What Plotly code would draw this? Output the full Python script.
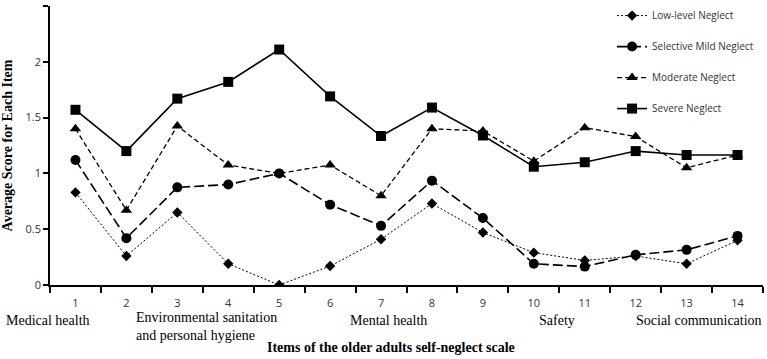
import plotly.graph_objects as go

items = [str(i) for i in range(1, 15)]
low_level = [0.83, 0.26, 0.65, 0.19, 0.0, 0.17, 0.41, 0.73, 0.47, 0.29, 0.22, 0.26, 0.19, 0.40]
selective_mild = [1.12, 0.42, 0.875, 0.90, 1.0, 0.72, 0.53, 0.935, 0.60, 0.19, 0.165, 0.27, 0.315, 0.44]
moderate = [1.40, 0.67, 1.425, 1.075, 1.0, 1.075, 0.80, 1.40, 1.38, 1.11, 1.41, 1.33, 1.05, 1.165]
severe = [1.57, 1.20, 1.67, 1.82, 2.11, 1.69, 1.335, 1.59, 1.34, 1.06, 1.10, 1.20, 1.165, 1.165]

series_names = ["Low-level Neglect", "Selective Mild Neglect", "Moderate Neglect", "Severe Neglect"]
group_labels = ["Medical health", "Environmental sanitation<br>and personal hygiene",
                "Mental health", "Safety", "Social communication"]
# positions in category-index units (0 = item 1)
group_pos = [-0.54, 1.15, 6.15, 9.46, 12.25]
group_anchor = ["center", "left", "center", "center", "center"]
group_shift = [-35, -41, -35, -35, -35]

styles = [
    dict(dash="2px,2px", width=1, symbol="diamond", size=8),
    dict(dash="10px,4px", width=1.6, symbol="circle", size=10),
    dict(dash="5px,3px", width=1.3, symbol="triangle-up", size=10),
    dict(dash="solid", width=1.6, symbol="square", size=10),
]

fig = go.Figure()
for i, (name, vals, st) in enumerate(zip(series_names, [low_level, selective_mild, moderate, severe], styles)):
    fig.add_trace(go.Scatter(
        x=items, y=vals, name=name, mode="lines+markers",
        line=dict(color="black", width=st["width"], dash=st["dash"]),
        marker=dict(symbol=st["symbol"], size=st["size"], color="black"),
        legendgroup=f"g{i}",
    ))

serif = "Liberation Serif"
sans = "Open Sans"
n = len(items)

for lab, pos, anc, sh in zip(group_labels, group_pos, group_anchor, group_shift):
    fig.add_annotation(x=(pos + 0.5) / n, y=0, xref="paper", yref="paper", yshift=sh, text=lab,
                       showarrow=False, xanchor=anc, yanchor="middle", align="left",
                       font=dict(family=serif, size=14, color="black"))

fig.add_annotation(x=0.478, y=0, xref="paper", yref="paper", yshift=-62,
                   text="<b>Items of the older adults self-neglect scale</b>",
                   showarrow=False, xanchor="center", yanchor="middle",
                   font=dict(family=serif, size=14, color="black"))

fig.update_layout(
    width=767, height=359,
    margin=dict(l=50, r=4, t=6, b=74, autoexpand=False),
    paper_bgcolor="white", plot_bgcolor="white",
    showlegend=True,
    legend=dict(x=0.798, y=0.997, xref="container", yref="container",
                xanchor="left", yanchor="top",
                font=dict(family=sans, size=10, color="#333"),
                tracegroupgap=12, bgcolor="rgba(0,0,0,0)"),
    xaxis=dict(type="category", range=[-0.5, 13.5], tickson="boundaries",
               ticks="outside", ticklen=6, tickwidth=1.5, tickcolor="black",
               showline=True, linecolor="black", linewidth=1.5, showgrid=False,
               ticklabelstandoff=7, automargin=False,
               tickfont=dict(family=sans, size=11, color="#333")),
    yaxis=dict(range=[0, 2.5001], tickvals=[0, 0.5, 1, 1.5, 2, 2.5],
               ticktext=["0", "0.5", "1", "1.5", "2", "2.5"],
               ticks="outside", ticklen=5, tickwidth=1.5, automargin=False,
               tickcolor="black", showline=True, linecolor="black", linewidth=1.5,
               showgrid=False, zeroline=False,
               tickfont=dict(family=sans, size=11, color="#333"),
               title=dict(text="<b>Average Score for Each Item</b>",
                          font=dict(family=serif, size=14, color="black"), standoff=12)),
)

fig.write_html("out.html")
